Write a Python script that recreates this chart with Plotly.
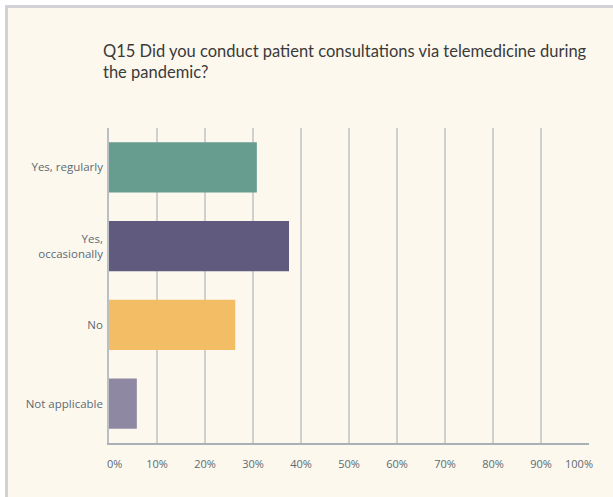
import plotly.graph_objects as go

categories = ["Yes, regularly", "Yes,<br>occasionally", "No", "Not applicable"]
values = [30.8, 37.5, 26.3, 5.8]
colors = ["#669d8f", "#5f5a7e", "#f3bd65", "#8f88a3"]
tick_vals = [0, 10, 20, 30, 40, 50, 60, 70, 80, 90, 100]
tick_text = [f"{v}%" for v in tick_vals]

NB = "\u00a0"
tick_text_disp = list(tick_text)
tick_text_disp[0] = NB * 4 + tick_text_disp[0]
tick_text_disp[-1] = tick_text_disp[-1] + NB * 7

W, H = 613, 497
L, R, T, B = 109, 24, 128, 54
pw, ph = W - L - R, H - T - B

def px(x):
    return (x - L) / pw

def py(y):
    return (H - B - y) / ph

fig = go.Figure(go.Bar(
    y=categories, x=values, orientation="h",
    marker=dict(color=colors, line=dict(width=0)),
    width=0.635,
))

fig.update_layout(
    width=W, height=H,
    margin=dict(l=L, r=R, t=T, b=B, autoexpand=False),
    paper_bgcolor="white",
    plot_bgcolor="rgba(0,0,0,0)",
    showlegend=False,
    font=dict(family="Open Sans, Noto Sans, sans-serif", color="#5b6b73", size=11),
    title=dict(
        text="Q15 Did you conduct patient consultations via telemedicine during<br>the pandemic?",
        x=103 / W, xanchor="left", xref="container",
        y=1 - 57 / H, yanchor="top", yref="container",
        font=dict(family="Lato, Open Sans, sans-serif", size=16.5, color="#3a3a3a"),
    ),
    xaxis=dict(
        range=[0, 100], tickvals=tick_vals, ticktext=tick_text_disp,
        showgrid=True, gridcolor="#d0d0cf", gridwidth=1.5,
        showline=True, linecolor="#a9b1b6", linewidth=1.5,
        zeroline=False, ticks="", ticklabelstandoff=10,
        tickfont=dict(size=11, color="#5b6b73"),
        fixedrange=True, automargin=False,
    ),
    yaxis=dict(
        autorange="reversed",
        showline=True, linecolor="#b9bfc2", linewidth=1.5,
        showgrid=False, ticks="", ticklabelstandoff=2,
        tickfont=dict(size=11.5, color="#5b6b73"),
        fixedrange=True, automargin=False,
    ),
    shapes=[
        dict(type="rect", xref="paper", yref="paper", layer="below",
             x0=px(5), x1=px(W + 20), y0=py(H + 20), y1=py(5),
             fillcolor="#d0d2d5", line=dict(width=0)),
        dict(type="rect", xref="paper", yref="paper", layer="below",
             x0=px(8), x1=px(W + 20), y0=py(H + 20), y1=py(8),
             fillcolor="#fdf8ee", line=dict(width=0)),
    ],
)

fig.write_html(
    "out.html",
    config={"displayModeBar": False},
    post_script="document.body.style.margin='0';document.body.style.overflow='hidden';",
)
